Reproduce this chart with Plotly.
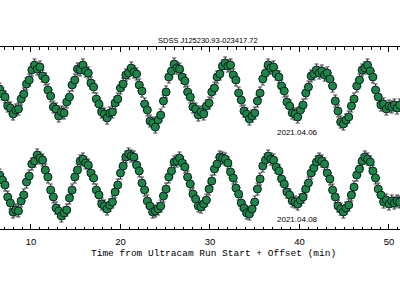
import plotly.graph_objects as go

# Time from Ultracam run start + offset (min)
time_min = [
    6.5, 6.8, 7.1, 7.4, 7.7, 8.0, 8.3, 8.6, 8.9, 9.2,
    9.5, 9.8, 10.1, 10.4, 10.7, 11.0, 11.3, 11.6, 11.9, 12.2,
    12.5, 12.8, 13.1, 13.4, 13.7, 14.0, 14.3, 14.6, 14.9, 15.2,
    15.5, 15.8, 16.1, 16.4, 16.7, 17.0, 17.3, 17.6, 17.9, 18.2,
    18.5, 18.8, 19.1, 19.4, 19.7, 20.0, 20.3, 20.6, 20.9, 21.2,
    21.5, 21.8, 22.1, 22.4, 22.7, 23.0, 23.3, 23.6, 23.9, 24.2,
    24.5, 24.8, 25.1, 25.4, 25.7, 26.0, 26.3, 26.6, 26.9, 27.2,
    27.5, 27.8, 28.1, 28.4, 28.7, 29.0, 29.3, 29.6, 29.9, 30.2,
    30.5, 30.8, 31.1, 31.4, 31.7, 32.0, 32.3, 32.6, 32.9, 33.2,
    33.5, 33.8, 34.1, 34.4, 34.7, 35.0, 35.3, 35.6, 35.9, 36.2,
    36.5, 36.8, 37.1, 37.4, 37.7, 38.0, 38.3, 38.6, 38.9, 39.2,
    39.5, 39.8, 40.1, 40.4, 40.7, 41.0, 41.3, 41.6, 41.9, 42.2,
    42.5, 42.8, 43.1, 43.4, 43.7, 44.0, 44.3, 44.6, 44.9, 45.2,
    45.5, 45.8, 46.1, 46.4, 46.7, 47.0, 47.3, 47.6, 47.9, 48.2,
    48.5, 48.8, 49.1, 49.4, 49.7, 50.0, 50.3, 50.6, 50.9, 51.2,
]

# Relative flux, night 2021.04.06
flux_0406 = [
    1.06, 1.01, 0.98, 0.89, 0.87, 0.81, 0.85, 0.86, 0.96, 1.01,
    1.11, 1.15, 1.25, 1.30, 1.26, 1.28, 1.19, 1.16, 1.05, 0.99,
    0.88, 0.86, 0.79, 0.83, 0.82, 0.93, 0.98, 1.10, 1.15, 1.26,
    1.25, 1.30, 1.24, 1.22, 1.12, 1.08, 0.96, 0.91, 0.83, 0.81,
    0.77, 0.82, 0.83, 0.92, 0.96, 1.07, 1.11, 1.20, 1.22, 1.27,
    1.23, 1.21, 1.10, 1.04, 0.91, 0.85, 0.74, 0.72, 0.68, 0.75,
    0.80, 0.94, 1.03, 1.18, 1.24, 1.31, 1.27, 1.26, 1.18, 1.14,
    1.03, 0.98, 0.88, 0.86, 0.80, 0.83, 0.81, 0.89, 0.92, 1.03,
    1.07, 1.18, 1.21, 1.29, 1.32, 1.29, 1.30, 1.20, 1.15, 1.02,
    0.95, 0.84, 0.81, 0.76, 0.79, 0.82, 0.94, 1.02, 1.16, 1.22,
    1.30, 1.27, 1.28, 1.21, 1.18, 1.09, 1.04, 0.93, 0.89, 0.82,
    0.81, 0.78, 0.85, 0.90, 1.02, 1.08, 1.19, 1.21, 1.25, 1.22,
    1.24, 1.20, 1.22, 1.16, 1.09, 0.94, 0.84, 0.73, 0.71, 0.75,
    0.78, 0.89, 0.96, 1.09, 1.15, 1.25, 1.27, 1.30, 1.24, 1.18,
    1.05, 0.98, 0.90, 0.91, 0.86, 0.89, 0.88, 0.90, 0.87, 0.90,
]

# Relative flux, night 2021.04.08
flux_0408 = [
    1.10, 1.05, 1.00, 0.88, 0.82, 0.73, 0.75, 0.74, 0.84, 0.90,
    1.03, 1.09, 1.21, 1.24, 1.30, 1.27, 1.25, 1.15, 1.08, 0.95,
    0.88, 0.77, 0.74, 0.69, 0.72, 0.75, 0.87, 0.95, 1.08, 1.15,
    1.24, 1.26, 1.22, 1.20, 1.12, 1.07, 0.95, 0.90, 0.81, 0.79,
    0.76, 0.80, 0.83, 0.93, 1.00, 1.12, 1.19, 1.28, 1.31, 1.29,
    1.28, 1.20, 1.14, 1.02, 0.95, 0.84, 0.79, 0.73, 0.74, 0.76,
    0.79, 0.89, 0.96, 1.08, 1.14, 1.23, 1.24, 1.27, 1.22, 1.18,
    1.08, 1.01, 0.91, 0.86, 0.79, 0.78, 0.81, 0.85, 0.96, 1.04,
    1.16, 1.21, 1.28, 1.27, 1.26, 1.22, 1.13, 1.07, 0.97, 0.91,
    0.82, 0.77, 0.72, 0.71, 0.76, 0.83, 0.96, 1.06, 1.19, 1.25,
    1.29, 1.26, 1.25, 1.18, 1.14, 1.06, 1.01, 0.93, 0.90, 0.84,
    0.83, 0.81, 0.85, 0.88, 0.96, 1.02, 1.12, 1.17, 1.23, 1.26,
    1.24, 1.21, 1.12, 1.06, 0.95, 0.88, 0.79, 0.76, 0.73, 0.77,
    0.80, 0.90, 0.98, 1.10, 1.16, 1.24, 1.28, 1.26, 1.23, 1.14,
    1.07, 0.96, 0.90, 0.83, 0.85, 0.81, 0.84, 0.82, 0.84, 0.83,
]

flux_err = 0.06
nights = ["2021.04.06", "2021.04.08"]
night_flux = {"2021.04.06": flux_0406, "2021.04.08": flux_0408}
night_offset = {"2021.04.06": 0.9, "2021.04.08": 0.0}
label_pos = {"2021.04.06": (39.8, 1.53), "2021.04.08": (39.8, 0.66)}
title_text = "SDSS J125230.93-023417.72"
xlabel_text = "Time from Ultracam Run Start + Offset (min)"

fig = go.Figure()
for n in nights:
    off = night_offset[n]
    fig.add_trace(go.Scatter(
        x=time_min,
        y=[f + off for f in night_flux[n]],
        mode="markers",
        marker=dict(size=8, color="#1d8644", line=dict(color="#0a1f24", width=1)),
        error_y=dict(type="constant", value=flux_err, color="#2a2a2a", thickness=0.9, width=2),
        showlegend=False,
        cliponaxis=True,
    ))

annotations = [
    dict(text=title_text, x=0.521, y=1.033, xref="paper", yref="paper",
         showarrow=False, xanchor="center", yanchor="middle",
         font=dict(family="Liberation Sans", size=7.5, color="black")),
    dict(text=xlabel_text, x=0.534, y=-0.132, xref="paper", yref="paper",
         showarrow=False, xanchor="center", yanchor="middle",
         font=dict(family="Liberation Mono", size=9.5, color="black")),
]
for n in nights:
    lx, ly = label_pos[n]
    annotations.append(dict(text=n, x=lx, y=ly, xref="x", yref="y", showarrow=False,
                            xanchor="center", yanchor="middle",
                            font=dict(family="Liberation Sans", size=8, color="black")))

fig.update_layout(
    width=400, height=300,
    margin=dict(l=0, r=0, t=47, b=71),
    paper_bgcolor="white", plot_bgcolor="white",
    annotations=annotations,
    xaxis=dict(range=[6.54, 51.23], showline=True, linecolor="black", linewidth=1,
               mirror="ticks", ticks="inside", ticklen=5, tickcolor="black", tickwidth=1,
               tick0=0, dtick=10, showgrid=False, zeroline=False, ticklabelstandoff=4,
               tickfont=dict(family="Liberation Sans", size=9.5, color="black"),
               minor=dict(dtick=1, ticks="inside", ticklen=2.5, tickcolor="black", showgrid=False)),
    yaxis=dict(range=[0.56, 2.38], visible=False, showgrid=False, zeroline=False),
)

fig.write_html("out.html", config={"displayModeBar": False})
